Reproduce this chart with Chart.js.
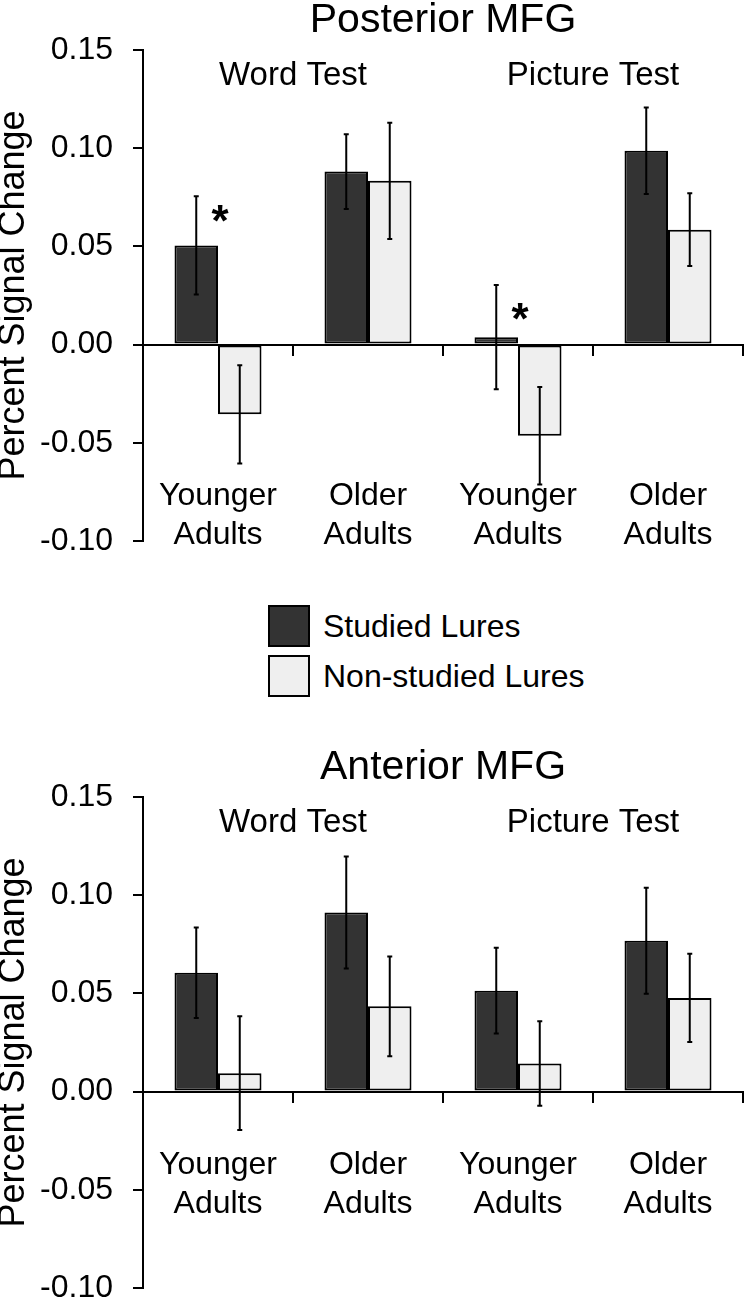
<!DOCTYPE html>
<html>
<head>
<meta charset="utf-8">
<script src="https://cdn.jsdelivr.net/npm/chart.js@4"></script>
<style>
  html, body { margin: 0; padding: 0; background: #fff; overflow: hidden; }
  body { width: 747px; height: 1302px; position: relative; font-family: "Liberation Sans", Arial, sans-serif; }
  #posterior { position: absolute; left: 0; top: 0; }
  #anterior { position: absolute; left: 0; top: 720px; }
  #legend { position: absolute; left: 268px; top: 605px; }
  .item { display: flex; align-items: center; height: 42px; margin-bottom: 8px; font-size: 32px; color: #000; }
  .swatch { width: 38px; height: 38px; border: 2px solid #000; margin-right: 13px; }
</style>
</head>
<body>
<canvas id="posterior" width="747" height="600"></canvas>
<div id="legend"></div>
<canvas id="anterior" width="747" height="600"></canvas>
<script>
const categories = [["Younger", "Adults"], ["Older", "Adults"], ["Younger", "Adults"], ["Older", "Adults"]];
const seriesNames = ["Studied Lures", "Non-studied Lures"];
const testNames = ["Word Test", "Picture Test"];
const yTicks = [-0.1, -0.05, 0, 0.05, 0.1, 0.15];

// Posterior MFG
const postStudied = [0.0505, 0.0881, 0.0038, 0.0987];
const postStudiedErr = [0.025, 0.019, 0.0265, 0.022];
const postNonStudied = [-0.0355, 0.0834, -0.0464, 0.0585];
const postNonStudiedErr = [0.025, 0.0296, 0.0248, 0.0185];
const postStarCats = [0, 2];
const postStarValues = [0.065, 0.015];

// Anterior MFG
const antStudied = [0.0605, 0.0912, 0.0514, 0.0768];
const antStudiedErr = [0.023, 0.0285, 0.0218, 0.027];
const antNonStudied = [0.0094, 0.0434, 0.0143, 0.0477];
const antNonStudiedErr = [0.029, 0.0254, 0.0215, 0.0225];

const colors = ["#333333", "#efefef"];
const FONT = '"Liberation Sans", Arial, sans-serif';

Chart.defaults.font.family = FONT;
Chart.defaults.color = "#000";

// error bars, asterisks and the test labels above each pair of groups
function makeExtras(errors, starCats, starValues) {
  return {
    id: "extras",
    afterDatasetsDraw(chart) {
      const ctx = chart.ctx;
      const x = chart.scales.x;
      const y = chart.scales.y;
      ctx.save();
      ctx.strokeStyle = "#000";
      ctx.lineWidth = 2;
      chart.data.datasets.forEach((ds, i) => {
        const meta = chart.getDatasetMeta(i);
        meta.data.forEach((bar, j) => {
          const v = ds.data[j];
          const e = errors[i][j];
          const top = y.getPixelForValue(v + e);
          const bot = y.getPixelForValue(v - e);
          ctx.beginPath();
          ctx.moveTo(bar.x, top);
          ctx.lineTo(bar.x, bot);
          ctx.moveTo(bar.x - 2.5, top);
          ctx.lineTo(bar.x + 2.5, top);
          ctx.moveTo(bar.x - 2.5, bot);
          ctx.lineTo(bar.x + 2.5, bot);
          ctx.stroke();
        });
      });

      ctx.fillStyle = "#000";
      ctx.textAlign = "center";
      ctx.textBaseline = "alphabetic";
      ctx.font = "bold 44px " + FONT;
      starCats.forEach((c, k) => {
        ctx.fillText("*", x.getPixelForValue(c) + 2, y.getPixelForValue(starValues[k]) + 19);
      });

      ctx.font = "33px " + FONT;
      ctx.textBaseline = "middle";
      testNames.forEach((name, k) => {
        ctx.fillText(name, x.getPixelForValue(k * 2 + 0.5), y.getPixelForValue(0.137));
      });
      ctx.restore();
    }
  };
}

function drawChart(id, title, titleTop, bottomPad, studied, nonStudied, errors, labelPad, starCats, starValues) {
  const ctx = document.getElementById(id).getContext("2d");
  new Chart(ctx, {
    type: "bar",
    data: {
      labels: categories,
      datasets: [
        {
          label: seriesNames[0],
          data: studied,
          backgroundColor: colors[0],
          borderColor: "#000",
          borderWidth: 2,
          borderSkipped: false,
        },
        {
          label: seriesNames[1],
          data: nonStudied,
          backgroundColor: colors[1],
          borderColor: "#000",
          borderWidth: 2,
          borderSkipped: false,
        },
      ],
    },
    options: {
      responsive: false,
      animation: false,
      layout: { padding: { left: 0, right: 4, top: 0, bottom: bottomPad } },
      datasets: { bar: { categoryPercentage: 0.58, barPercentage: 1.0 } },
      scales: {
        x: {
          type: "category",
          position: { y: 0 },
          offset: true,
          afterFit: (scale) => {
            // labels sit well below the axis, they need no side room
            scale.paddingLeft = 0;
            scale.paddingRight = 0;
          },
          grid: {
            offset: true,
            drawOnChartArea: false,
            drawTicks: true,
            tickLength: 10,
            color: "#000",
            lineWidth: 2,
          },
          border: { display: true, color: "#000", width: 2 },
          ticks: {
            autoSkip: false,
            maxRotation: 0,
            minRotation: 0,
            padding: labelPad,
            font: { size: 32, lineHeight: 1.22 },
            color: "#000",
          },
        },
        y: {
          min: -0.1,
          max: 0.15,
          afterFit: (scale) => {
            scale.width = 143;
            scale.paddingTop = 0;
            scale.paddingBottom = 0;
          },
          afterBuildTicks: (scale) => {
            scale.ticks = yTicks.map((v) => ({ value: v }));
          },
          grid: {
            drawOnChartArea: false,
            drawTicks: true,
            tickLength: 10,
            color: "#000",
            lineWidth: 2,
          },
          border: { display: true, color: "#000", width: 2 },
          ticks: {
            padding: 20,
            font: { size: 32 },
            color: "#000",
            callback: (v) => Number(v).toFixed(2),
          },
          title: {
            display: true,
            text: "Percent Signal Change",
            font: { size: 36, lineHeight: 0.78 },
            padding: 0,
            color: "#000",
          },
        },
      },
      plugins: {
        legend: { display: false },
        tooltip: { enabled: false },
        title: {
          display: true,
          text: title,
          fullSize: false,
          color: "#000",
          font: { size: 41, weight: "normal", lineHeight: 1.0 },
          padding: { top: titleTop, bottom: 9 },
        },
      },
    },
    plugins: [makeExtras(errors, starCats, starValues)],
  });
}

drawChart("posterior", "Posterior MFG", 0, 59, postStudied, postNonStudied,
  [postStudiedErr, postNonStudiedErr], 122, postStarCats, postStarValues);
drawChart("anterior", "Anterior MFG", 27, 32, antStudied, antNonStudied,
  [antStudiedErr, antNonStudiedErr], 44, [], []);

// legend between the two panels
const legend = document.getElementById("legend");
seriesNames.forEach((name, i) => {
  const item = document.createElement("div");
  item.className = "item";
  const sw = document.createElement("span");
  sw.className = "swatch";
  sw.style.background = colors[i];
  const txt = document.createElement("span");
  txt.textContent = name;
  item.appendChild(sw);
  item.appendChild(txt);
  legend.appendChild(item);
});
</script>
</body>
</html>
